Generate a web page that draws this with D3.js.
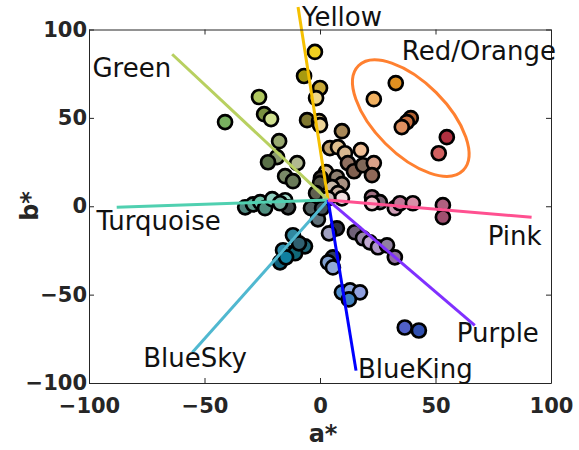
<!DOCTYPE html>
<html>
<head>
<meta charset="utf-8">
<script src="https://cdn.jsdelivr.net/npm/d3@7"></script>
<style>
  body { margin: 0; background: #fff; }
  svg { font-family: "DejaVu Sans", sans-serif; }
</style>
</head>
<body>
<svg id="canvas" width="579" height="450"></svg>
<script>
// a*, b*, fill colour of each sample
const aVals = [-2.2, -6.9, 0, -1.7, -26.4, -24.2, -21.2, -41.1, -5.6, -0.4, 0, 9.5,
  -17.7, -18.6, -22.5, -9.9, -15.1, -11.7,
  4.3, 7.8, 10.8, 17.7, 12.1, 14.7, 18.6, 23.3, 22.5, 2.6, 0.4, 0, 7.3, 9.5, 5.2, -1.7, 7.8, 9.5, 3.5,
  -32.4, -29, -25.9, -23.8, -20.7, -15.1, -13.8, -17.3,
  -3.9, -0.9, 0.9,
  22.5, 25.9, 22.5, 32.4, 34.6, 40.2, 53.2, 53.2,
  15.1, 18.6, 21.6, 25.1, 29, 32.4, 7.3, 3.9,
  -11.7, -6.5, -16, -13, -10.8, -17.3, -9.1, -14.7,
  5.6, 3.5, 5.6, 9.5, 13, 17.3, 12.5, 36.7, 42.8,
  32.8, 23.3, 39.3, 37.6, 35.4, 54.9, 51.4]
const bVals = [87.3, 73.7, 66.9, 61.2, 61.8, 52.1, 49.3, 47.6, 48.7, 48.2, 45.9, 42.5,
  36.8, 27.8, 24.9, 24.4, 17, 14.2,
  32.9, 33.4, 30, 31.7, 24.4, 19.8, 23.2, 24.4, 17.6, 19.3, 15.9, 13, 16.4, 12.5, 10.8, 7.4, 7.4, 4.5, 4.5,
  -0.6, 1.1, 2.3, -1.1, 4, 3.4, -0.6, 1.7,
  -1.1, -7.4, -1.1,
  5.1, 2.3, 1.7, -1.1, 1.7, 1.7, 0.6, -6.2,
  -14.7, -18.1, -20.4, -23.2, -22.1, -28.9, -12.5, -15.3,
  -16.4, -22.7, -24.9, -26.6, -26.6, -31.7, -21, -28.9,
  -28.9, -31.7, -34.6, -48.7, -47.6, -48.7, -52.7, -68.6, -70.3,
  69.7, 60.6, 49.9, 47.6, 44.8, 39.1, 30]
const fills = ['#f0d020', '#a89a10', '#c8a838', '#f0d888', '#b0c860', '#7a9040', '#d0e090', '#78b060', '#807830', '#e0c888', '#ecd498', '#a88858',
  '#98a870', '#8a9a70', '#5a7048', '#b0b890', '#7a8a68', '#6a7a58',
  '#c0a070', '#e0c090', '#d8b890', '#f0c098', '#907060', '#806050', '#806858', '#d8a088', '#906858', '#d8c0a0', '#403830', '#505040', '#908070', '#a89080', '#c8b8a8', '#606050', '#c8b0a0', '#f0e0e0', '#d0c0c0',
  '#508880', '#60a090', '#70c0a8', '#509080', '#90d0c0', '#a0d8c8', '#404848', '#70b0a0',
  '#506060', '#607078', '#405058',
  '#a07080', '#806878', '#f0c8d0', '#d0a0b8', '#c07898', '#d890a8', '#b06080', '#a05070',
  '#706078', '#9888a8', '#c0a8d0', '#b098c8', '#9080a0', '#9070a0', '#303040', '#a0a0c0',
  '#3088a0', '#206878', '#3090b0', '#5090a0', '#106878', '#10607a', '#306070', '#1080a0',
  '#304060', '#80a0d0', '#90a8d8', '#5090d0', '#90a8e0', '#90a0e0', '#4080c0', '#5060c8', '#3050b0',
  '#e09020', '#f0b060', '#b06030', '#c87040', '#e09060', '#b03040', '#d06060']

// hue axes: all start at the grey centre
const hueCentre = [3.5, 3.5]
const hueNames = ['Yellow', 'Green', 'Turquoise', 'BlueSky', 'BlueKing', 'Purple', 'Pink']
const hueEndA = [-9.5, -64, -88, -55.3, 15.6, 67, 91.6]
const hueEndB = [112.7, 86, -0.6, -82.7, -93, -67.4, -6.2]
const hueColors = ['#f5c000', '#b8d060', '#50d0b0', '#50b8d0', '#0000ff', '#8030ff', '#ff5090']

// label anchors (a*, b*) for each hue name, plus the Red/Orange group
const labelNames = ['Yellow', 'Red/Orange', 'Green', 'Turquoise', 'Pink', 'Purple', 'BlueSky', 'BlueKing']
const labelA = [-7.8, 35.4, -98.5, -96.8, 72.6, 59.2, -76.5, 16.4]
const labelB = [102, 82.7, 73, -13.6, -22, -77, -91.2, -96.9]

const ticks = [-100, -50, 0, 50, 100]

let svg = d3.select('#canvas')

let x = d3.scaleLinear().domain([-100, 100]).range([89, 551])
let y = d3.scaleLinear().domain([-100, 100]).range([383, 29.5])

let pts = aVals.map((a, i) => ({ a: a, b: bVals[i], c: fills[i] }))

// points
svg.append('g').selectAll('circle')
  .data(pts)
  .enter().append('circle')
  .attr('cx', d => x(d.a))
  .attr('cy', d => y(d.b))
  .attr('r', 7)
  .attr('fill', d => d.c)
  .attr('stroke', '#000')
  .attr('stroke-width', 2.7)

// Red/Orange ellipse (centre in data units, radii in px)
svg.append('ellipse')
  .attr('transform', `translate(${x(39.3)},${y(49.9)}) rotate(45)`)
  .attr('rx', 74)
  .attr('ry', 36)
  .attr('fill', 'none')
  .attr('stroke', '#ff8030')
  .attr('stroke-width', 3)

// hue lines
svg.append('g').selectAll('line')
  .data(hueNames)
  .enter().append('line')
  .attr('x1', x(hueCentre[0]))
  .attr('y1', y(hueCentre[1]))
  .attr('x2', (d, i) => x(hueEndA[i]))
  .attr('y2', (d, i) => y(hueEndB[i]))
  .attr('stroke', (d, i) => hueColors[i])
  .attr('stroke-width', 3)

// axes, matlab style box with inner ticks
let styleAxis = g => {
  g.selectAll('path, line').attr('stroke', '#262626').attr('stroke-width', 1)
  g.selectAll('text').attr('fill', '#262626').attr('font-size', 21).attr('font-weight', 'bold')
  g.attr('font-family', null)
}

svg.append('g').attr('transform', 'translate(0,383)')
  .call(d3.axisBottom(x).tickValues(ticks).tickSizeInner(-5).tickSizeOuter(0).tickPadding(15))
  .call(styleAxis)
svg.append('g').attr('transform', 'translate(0,29.5)')
  .call(d3.axisTop(x).tickValues(ticks).tickSizeInner(-5).tickSizeOuter(0).tickFormat(''))
  .call(styleAxis)
svg.append('g').attr('transform', 'translate(89,0)')
  .call(d3.axisLeft(y).tickValues(ticks).tickSizeInner(-5).tickSizeOuter(0).tickPadding(2))
  .call(styleAxis)
svg.append('g').attr('transform', 'translate(551,0)')
  .call(d3.axisRight(y).tickValues(ticks).tickSizeInner(-5).tickSizeOuter(0).tickFormat(''))
  .call(styleAxis)

// axis titles
svg.append('text')
  .attr('x', 323).attr('y', 442)
  .attr('text-anchor', 'middle')
  .attr('font-size', 24).attr('font-weight', 'bold').attr('fill', '#262626')
  .text('a*')
svg.append('text')
  .attr('transform', 'translate(38,206) rotate(-90)')
  .attr('text-anchor', 'middle')
  .attr('font-size', 24).attr('font-weight', 'bold').attr('fill', '#262626')
  .text('b*')

// hue labels
svg.append('g').selectAll('text')
  .data(labelNames)
  .enter().append('text')
  .attr('x', (d, i) => x(labelA[i]))
  .attr('y', (d, i) => y(labelB[i]))
  .attr('font-size', 26)
  .attr('fill', '#111')
  .text(d => d)
</script>
</body>
</html>
